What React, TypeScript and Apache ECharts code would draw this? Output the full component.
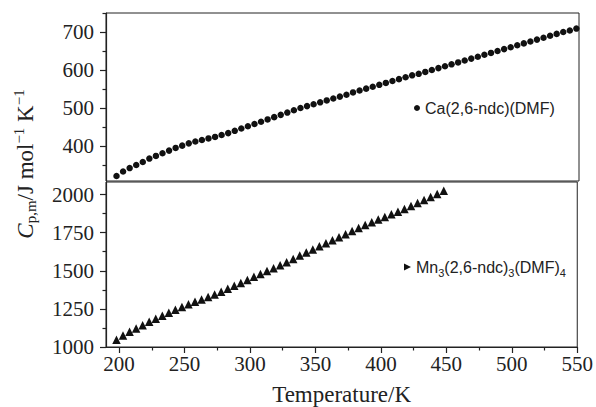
import React, { useEffect, useRef } from "react";
import * as echarts from "echarts";

const caTemps = [198, 203, 208, 213, 218, 223, 228, 233, 238, 243, 248, 253, 258, 263, 268, 273, 278, 283, 288, 293, 298, 303, 308, 313, 318, 323, 328, 333, 338, 343, 348, 353, 358, 363, 368, 373, 378, 383, 388, 393, 398, 403, 408, 413, 418, 423, 428, 433, 438, 443, 448, 453, 458, 463, 468, 473, 478, 483, 488, 493, 498, 503, 508, 513, 518, 523, 528, 533, 538, 543, 548];
const caValues = [321, 333, 342, 350, 358, 367, 374, 381, 388, 395, 401, 407, 412, 416, 420, 424, 429, 434, 440, 446, 452, 458, 464, 470, 476, 482, 488, 494, 500, 505, 510, 515, 520, 525, 530, 535, 541, 546, 551, 556, 561, 566, 571, 576, 581, 586, 590, 595, 600, 605, 610, 615, 620, 625, 630, 635, 640, 645, 650, 655, 660, 665, 670, 675, 680, 685, 690, 695, 700, 704, 709];

const mnTemps = [198, 203, 208, 213, 218, 223, 228, 233, 238, 243, 248, 253, 258, 263, 268, 273, 278, 283, 288, 293, 298, 303, 308, 313, 318, 323, 328, 333, 338, 343, 348, 353, 358, 363, 368, 373, 378, 383, 388, 393, 398, 403, 408, 413, 418, 423, 428, 433, 438, 443, 448];
const mnValues = [1047, 1075, 1100, 1122, 1143, 1165, 1185, 1205, 1225, 1244, 1263, 1280, 1296, 1312, 1328, 1345, 1363, 1382, 1401, 1420, 1440, 1460, 1479, 1498, 1517, 1536, 1555, 1577, 1600, 1620, 1640, 1660, 1680, 1700, 1720, 1740, 1760, 1780, 1800, 1818, 1836, 1853, 1870, 1887, 1905, 1924, 1944, 1964, 1984, 2004, 2024];

const xLabels = [200, 250, 300, 350, 400, 450, 500, 550];
const xMinor = [225, 275, 325, 375, 425, 475, 525];
const topLabels = [400, 500, 600, 700];
const topMinor = [350, 450, 550, 650, 750];
const bottomLabels = [1000, 1250, 1500, 1750, 2000];
const bottomMinor = [1125, 1375, 1625, 1875];

const CA_NAME = "Ca(2,6-ndc)(DMF)";
const MN_NAME = "Mn3(2,6-ndc)3(DMF)4";

const INK = "#111";
const SERIF = "Liberation Serif";
const SANS = "Liberation Sans";
const TICK_FONT = "'Liberation Serif', 'Times New Roman', serif";

export default function App() {
  const ref = useRef<HTMLDivElement>(null);
  useEffect(() => {
    if (!ref.current) return;
    document.body.style.margin = "0";
    const chart = echarts.init(ref.current, null, { renderer: "svg" });
    const grids = [
      { left: 106, top: 13, width: 473, height: 168 },
      { left: 106, top: 182, width: 473, height: 167 },
    ].map((g) => ({ ...g, show: true, borderColor: "#222", borderWidth: 1, backgroundColor: "transparent" }));

    const lineStyle = { color: "#222", width: 1.2 };
    const plain = (v: number) => String(v);

    const mainY = (grid: number, min: number, max: number, vals: number[]) => ({
      type: "value", gridIndex: grid, min, max, position: "left", offset: 0,
      axisLine: { show: true, lineStyle },
      axisTick: { show: true, inside: false, length: 6, lineStyle, customValues: vals },
      axisLabel: {
        show: true, margin: 12, customValues: vals, formatter: plain,
        fontFamily: TICK_FONT, fontSize: 21, color: "#222",
      },
      splitLine: { show: false },
    });
    const minorY = (grid: number, min: number, max: number, vals: number[]) => ({
      type: "value", gridIndex: grid, min, max, position: "left", offset: 0,
      axisLine: { show: false },
      axisTick: { show: true, inside: false, length: 3.5, lineStyle, customValues: vals },
      axisLabel: { show: false },
      splitLine: { show: false },
    });

    chart.setOption({
      animation: false,
      backgroundColor: "#fff",
      textStyle: { fontFamily: SERIF },
      grid: grids,
      xAxis: [
        { type: "value", gridIndex: 0, min: 190, max: 550, show: false },
        {
          type: "value", gridIndex: 1, min: 190, max: 550, position: "bottom", offset: 0,
          axisLine: { show: true, lineStyle },
          axisTick: { show: true, length: 6, lineStyle, customValues: xLabels },
          axisLabel: {
            show: true, margin: 6, customValues: xLabels, formatter: plain,
            fontFamily: TICK_FONT, fontSize: 21, color: "#222",
          },
          splitLine: { show: false },
          name: "Temperature/K",
          nameLocation: "middle",
          nameGap: 36,
          nameTextStyle: { fontFamily: SERIF, fontSize: 23, color: "#222" },
        },
        {
          type: "value", gridIndex: 1, min: 190, max: 550, position: "bottom", offset: 0,
          axisLine: { show: false },
          axisTick: { show: true, length: 3.5, lineStyle, customValues: xMinor },
          axisLabel: { show: false },
          splitLine: { show: false },
        },
      ],
      yAxis: [
        mainY(0, 308, 750, topLabels),
        minorY(0, 308, 750, topMinor),
        mainY(1, 1000, 2082, bottomLabels),
        minorY(1, 1000, 2082, bottomMinor),
      ],
      legend: [
        {
          data: [CA_NAME], left: 414, top: 100, padding: 0,
          icon: "circle", itemWidth: 6, itemHeight: 6, selectedMode: false,
          textStyle: { fontFamily: SANS, fontSize: 16, color: "#222" },
        },
        {
          data: [MN_NAME], left: 404, top: 259, padding: 0,
          icon: "path://M0,0L10,5L0,10Z", itemWidth: 7, itemHeight: 9, selectedMode: false,
          formatter: () => "{n|Mn}{s|3}{n|(2,6-ndc)}{s|3}{n|(DMF)}{s|4}",
          textStyle: {
            fontFamily: SANS, fontSize: 16, color: "#222",
            rich: {
              n: { fontFamily: SANS, fontSize: 16, color: "#222" },
              s: { fontFamily: SANS, fontSize: 11, color: "#222", padding: [12, 0, 0, 0] },
            },
          },
        },
      ],
      graphic: [
        {
          type: "text",
          x: 25,
          y: 164,
          rotation: Math.PI / 2,
          style: {
            text: "{c|C}{sub|p,m}{n|/J mol}{sup|\u22121}{n| K}{sup|\u22121}",
            align: "center",
            verticalAlign: "middle",
            rich: {
              c: { fontFamily: SERIF, fontSize: 23, fontStyle: "italic", fill: "#222" },
              n: { fontFamily: SERIF, fontSize: 23, fill: "#222" },
              sub: { fontFamily: SERIF, fontSize: 15, fill: "#222", padding: [11, 0, 0, 0] },
              sup: { fontFamily: SERIF, fontSize: 15, fill: "#222", padding: [0, 0, 13, 0] },
            },
          },
        },
      ],
      series: [
        {
          name: CA_NAME, type: "scatter", xAxisIndex: 0, yAxisIndex: 0,
          symbol: "circle", symbolSize: 6.5,
          itemStyle: { color: INK, opacity: 1 },
          data: caTemps.map((t, i) => [t, caValues[i]]),
        },
        {
          name: MN_NAME, type: "scatter", xAxisIndex: 1, yAxisIndex: 2,
          symbol: "triangle", symbolSize: 8.5,
          itemStyle: { color: INK, opacity: 1 },
          data: mnTemps.map((t, i) => [t, mnValues[i]]),
        },
      ],
    });
    return () => chart.dispose();
  }, []);
  return <div ref={ref} style={{ width: 596, height: 407 }} />;
}
